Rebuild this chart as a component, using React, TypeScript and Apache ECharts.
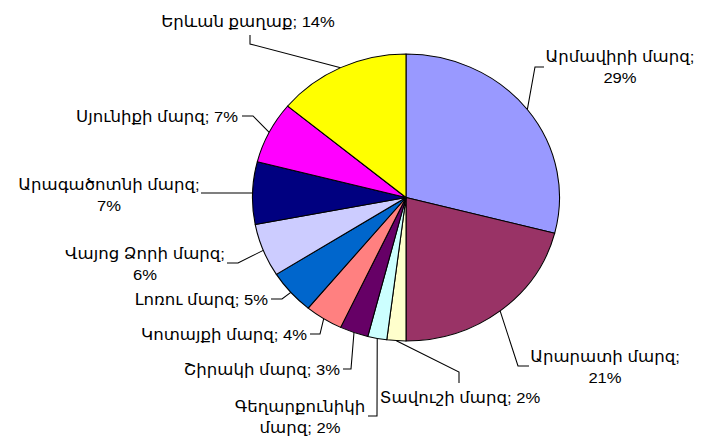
import React, { useEffect, useRef } from 'react';
import * as echarts from 'echarts';

// ---- data ----
const regions = [
  'Արմավիրի մարզ',
  'Արարատի մարզ',
  'Տավուշի մարզ',
  'Գեղարքունիկի մարզ',
  'Շիրակի մարզ',
  'Կոտայքի մարզ',
  'Լոռու մարզ',
  'Վայոց Ձորի մարզ',
  'Արագածոտնի մարզ',
  'Սյունիքի մարզ',
  'Երևան քաղաք',
];
const shares = [29, 21, 2, 2, 3, 4, 5, 6, 7, 7, 14];
const colors = [
  '#9999FF', '#993366', '#FFFFCC', '#CCFFFF', '#660066', '#FF8080',
  '#0066CC', '#CCCCFF', '#000080', '#FF00FF', '#FFFF00',
];

// ---- layout (screen pixels) ----
const SX = 1.07; // horizontal stretch of the original picture
const W = 701;
const H = 439;
const CX = 406;
const CY = 197.5;
const R = 143.5;

type Lay = {
  x: number; y: number;
  align: 'left' | 'center' | 'right';
  v: 'top' | 'middle' | 'bottom';
  elbow: [number, number];
  end: [number, number];
  wrap: 'pct' | 'name' | 'none';
};
const LAYOUT: Lay[] = [
  { x: 620, y: 67, align: 'center', v: 'middle', elbow: [535, 67], end: [544, 67], wrap: 'pct' },
  { x: 605, y: 367, align: 'center', v: 'middle', elbow: [518, 366], end: [529, 366], wrap: 'pct' },
  { x: 460, y: 387, align: 'center', v: 'top', elbow: [459, 372], end: [459, 383], wrap: 'none' },
  { x: 300, y: 417, align: 'center', v: 'middle', elbow: [377, 416], end: [368, 416], wrap: 'name' },
  { x: 340, y: 369, align: 'right', v: 'middle', elbow: [351, 369], end: [343, 369], wrap: 'none' },
  { x: 307, y: 334, align: 'right', v: 'middle', elbow: [320, 334], end: [310, 334], wrap: 'none' },
  { x: 268, y: 299, align: 'right', v: 'middle', elbow: [282, 299], end: [271, 299], wrap: 'none' },
  { x: 145, y: 264, align: 'center', v: 'middle', elbow: [238, 263], end: [227, 263], wrap: 'pct' },
  { x: 109, y: 195, align: 'center', v: 'middle', elbow: [215, 193], end: [201, 193], wrap: 'pct' },
  { x: 238, y: 116, align: 'right', v: 'middle', elbow: [253, 116], end: [242, 116], wrap: 'none' },
  { x: 248, y: 21, align: 'center', v: 'middle', elbow: [250, 44], end: [250, 35], wrap: 'none' },
];

export default function App() {
  const ref = useRef<HTMLDivElement>(null);
  useEffect(() => {
    document.body.style.margin = '0';
    if (!ref.current) return;
    const chart = echarts.init(ref.current, undefined, { renderer: 'svg' });
    chart.setOption({
      animation: false,
      backgroundColor: '#ffffff',
      series: [
        {
          type: 'pie',
          center: [CX / SX, CY],
          radius: R,
          startAngle: 90,
          clockwise: true,
          avoidLabelOverlap: false,
          emphasis: { disabled: true },
          silent: true,
          data: regions.map((name, i) => ({
            name,
            value: shares[i],
            itemStyle: { color: colors[i] },
          })),
          itemStyle: { borderColor: '#000000', borderWidth: 1 },
          label: {
            show: true,
            position: 'outside',
            color: '#000000',
            fontSize: 15.5,
            lineHeight: 21,
            fontFamily: "Arial, 'Liberation Sans', 'DejaVu Sans', sans-serif",
            overflow: 'none',
            formatter: (p: any) => {
              const pct = Math.round(p.percent);
              const w = LAYOUT[p.dataIndex].wrap;
              if (w === 'pct') return `${p.name};\n${pct}%`;
              if (w === 'name') {
                const k = p.name.lastIndexOf(' ');
                return `${p.name.slice(0, k)}\n${p.name.slice(k + 1)}; ${pct}%`;
              }
              return `${p.name}; ${pct}%`;
            },
          },
          labelLine: {
            show: true,
            length: 10,
            length2: 10,
            lineStyle: { color: '#000000', width: 1 },
          },
          labelLayout: (params: any) => {
            const L = LAYOUT[params.dataIndex];
            const edge = params.labelLinePoints
              ? params.labelLinePoints[0]
              : [L.elbow[0] / SX, L.elbow[1]];
            return {
              x: L.x / SX,
              y: L.y,
              align: L.align,
              verticalAlign: L.v,
              labelLinePoints: [
                edge,
                [L.elbow[0] / SX, L.elbow[1]],
                [L.end[0] / SX, L.end[1]],
              ],
            };
          },
        },
      ],
    });
    return () => chart.dispose();
  }, []);
  return (
    <div style={{ width: W, height: H, overflow: 'hidden', background: '#fff' }}>
      <div
        ref={ref}
        style={{
          width: W / SX,
          height: H,
          transform: `scaleX(${SX})`,
          transformOrigin: '0 0',
        }}
      />
    </div>
  );
}
